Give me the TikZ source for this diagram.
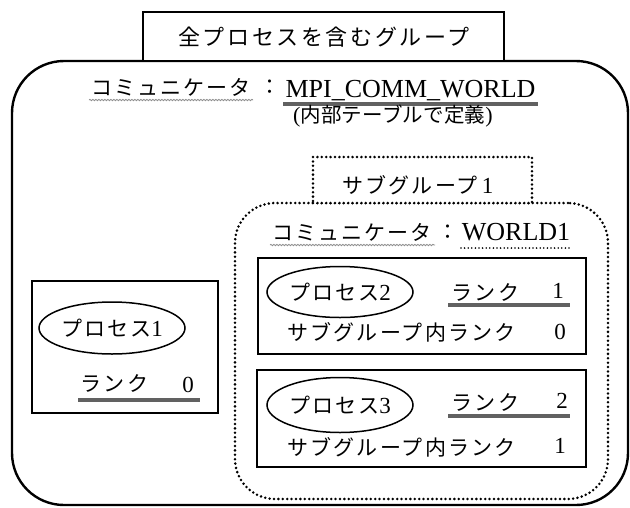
\documentclass[tikz,border=0pt]{standalone}
\usepackage{fontspec}
\setmainfont{Liberation Serif}
\newfontfamily\jp{Noto Sans CJK JP}
\usetikzlibrary{shapes.geometric,decorations.pathmorphing}
\newcommand{\jpbody}{\jp\fontsize{21}{21}\selectfont\addfontfeature{LetterSpace=10}}
\newcommand{\jptitle}{\jp\fontsize{22}{22}\selectfont\addfontfeature{LetterSpace=12}}
\newcommand{\jpnote}{\jp\fontsize{20.5}{20.5}\selectfont\addfontfeature{LetterSpace=1}}
\newcommand{\latbig}{\fontsize{26}{26}\selectfont}
\newcommand{\digit}{\fontsize{23}{23}\selectfont}
\begin{document}
\begin{tikzpicture}[x=1pt,y=-1pt,
  jt/.style={inner sep=0pt, font=\jpbody},
  lt/.style={inner sep=0pt, anchor=base, font=\latbig},
  dg/.style={inner sep=0pt, anchor=base, font=\digit},
  frame/.style={draw, line width=1.7pt, inner sep=0pt},
  dotframe/.style={draw, line width=2.8pt, line cap=round, dash pattern=on 0pt off 4.4pt, inner sep=0pt},
  rankline/.style={line width=3.6pt, draw=black!62},
  wavy/.style={draw=black!45, line width=0.8pt, decorate, decoration={snake, amplitude=0.7pt, segment length=3pt}},
  proc/.style={draw, ellipse, line width=1.5pt, minimum width=146pt, minimum height=52pt, inner sep=0pt, font=\jpbody}]
\useasboundingbox (0,0) rectangle (630,507);
\fill[white] (0,0) rectangle (630,507);

% outer group
\node[draw, line width=2.4pt, rounded corners=52pt, minimum width=616pt, minimum height=444pt, inner sep=0pt] (world) at (320,283) {};
\node[frame, line width=2pt, fill=white, minimum width=361pt, minimum height=49pt] (titlebox) at (323.5,36.5) {};
\node[inner sep=0pt, font=\jptitle] (title) at (324,37) {全プロセスを含むグループ};

% communicator MPI_COMM_WORLD
\node[jt] (c1) at (171,87) {コミュニケータ};
\node[jt] (col1) at (270,87) {：};
\node[lt] (mpi) at (410.5,97) {MPI\_COMM\_WORLD};
\draw[wavy] (89,100) -- (253,100);
\draw[rankline] (283,104) -- (538,104);
\node[inner sep=0pt, font=\jpnote] (note) at (393,116) {{\rmfamily\fontsize{22}{22}\selectfont(}内部テーブルで定義{\rmfamily\fontsize{22}{22}\selectfont)}};

% subgroup 1
\node[dotframe, rounded corners=40pt, minimum width=373pt, minimum height=296pt] (sub) at (421.5,351) {};
\node[dotframe, fill=white, minimum width=219pt, minimum height=46pt] (sgbox) at (422.5,180) {};
\node[inner sep=0pt, font=\jpbody] (sg) at (418,185) {サブグループ{\rmfamily\fontsize{23}{23}\selectfont\,1}};

\node[jt] (c2) at (352,232) {コミュニケータ};
\node[jt] (col2) at (448,232) {：};
\node[lt] (w1) at (516,240) {WORLD1};
\draw[wavy] (270,245) -- (435,245);
\draw[line width=1.8pt, line cap=round, dash pattern=on 0pt off 3.6pt] (461,248) -- (572,248);

% process 1
\node[frame, minimum width=186pt, minimum height=132pt] (p1box) at (125,347) {};
\node[proc] (p1) at (112,328) {プロセス{\rmfamily\fontsize{23}{23}\selectfont 1}};
\node[jt] (r1) at (114.5,383) {ランク};
\node[dg] (r1v) at (188,392) {0};
\draw[rankline] (78,400) -- (200,400);

% process 2
\node[frame, minimum width=328pt, minimum height=96pt] (p2box) at (422,306) {};
\node[proc, minimum height=51pt] (p2) at (340,292) {プロセス{\rmfamily\fontsize{23}{23}\selectfont 2}};
\node[jt] (r2) at (485.5,292) {ランク};
\node[dg] (r2v) at (558,298) {1};
\draw[rankline] (448,305) -- (570,305);
\node[jt] (s2) at (401.5,332) {サブグループ内ランク};
\node[dg] (s2v) at (560,339) {0};

% process 3
\node[frame, minimum width=329pt, minimum height=97pt] (p3box) at (421.5,418.5) {};
\node[proc, minimum height=55pt] (p3) at (340,405) {プロセス{\rmfamily\fontsize{23}{23}\selectfont 3}};
\node[jt] (r3) at (485.5,402) {ランク};
\node[dg] (r3v) at (562,408) {2};
\draw[rankline] (448,416) -- (570,416);
\node[jt] (s3) at (401.5,447) {サブグループ内ランク};
\node[dg] (s3v) at (560,453) {1};
\end{tikzpicture}
\end{document}
